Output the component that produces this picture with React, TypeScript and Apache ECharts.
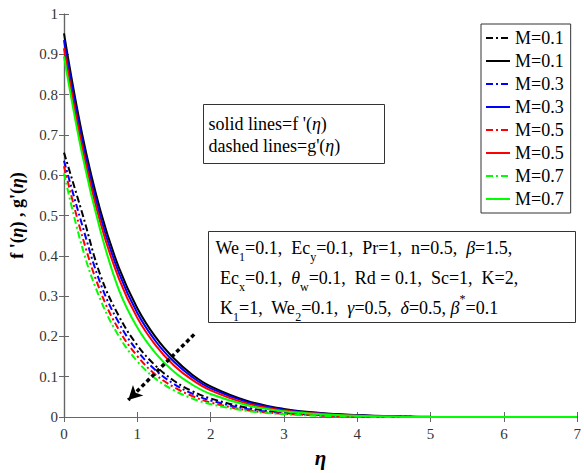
import React, { useEffect, useRef } from "react";
import * as echarts from "echarts";

// ---- data ----
const ETA = [0, 0.25, 0.5, 0.75, 1, 1.25, 1.5, 1.75, 2, 2.5, 3, 3.5, 4, 4.5, 5, 6, 7];

// f'(eta) — solid lines
const F_M01 = [0.952, 0.70, 0.51, 0.37, 0.27, 0.198, 0.145, 0.105, 0.076, 0.040, 0.020, 0.010, 0.005, 0.002, 0.0005, 0, 0];
const F_M03 = [0.935, 0.685, 0.495, 0.357, 0.258, 0.188, 0.137, 0.099, 0.071, 0.037, 0.018, 0.009, 0.004, 0.0015, 0.0003, 0, 0];
const F_M05 = [0.915, 0.668, 0.48, 0.343, 0.246, 0.178, 0.128, 0.092, 0.066, 0.033, 0.016, 0.008, 0.003, 0.001, 0, 0, 0];
const F_M07 = [0.895, 0.65, 0.46, 0.315, 0.222, 0.158, 0.112, 0.080, 0.057, 0.029, 0.014, 0.007, 0.003, 0.001, 0, 0, 0];

// g'(eta) — dashed lines
const G_M01 = [0.656, 0.505, 0.35, 0.25, 0.178, 0.127, 0.09, 0.064, 0.046, 0.023, 0.011, 0.005, 0.002, 0.001, 0, 0, 0];
const G_M03 = [0.636, 0.475, 0.33, 0.233, 0.164, 0.116, 0.082, 0.058, 0.041, 0.020, 0.010, 0.004, 0.002, 0.001, 0, 0, 0];
const G_M05 = [0.622, 0.448, 0.31, 0.216, 0.151, 0.105, 0.074, 0.052, 0.036, 0.017, 0.008, 0.004, 0.001, 0, 0, 0, 0];
const G_M07 = [0.605, 0.42, 0.29, 0.20, 0.138, 0.095, 0.066, 0.046, 0.032, 0.015, 0.007, 0.003, 0.001, 0, 0, 0, 0];

const M_LABELS = ["M=0.1", "M=0.3", "M=0.5", "M=0.7"];
const COLORS = ["#000000", "#0000ff", "#ff0000", "#00ff00"];
const F_SETS = [F_M01, F_M03, F_M05, F_M07];
const G_SETS = [G_M01, G_M03, G_M05, G_M07];

// arrow annotation (data coordinates)
const ARROW_FROM = [1.775, 0.205];
const ARROW_TO = [0.876, 0.042];

const FONT = "Liberation Serif, Times New Roman, serif";

export default function App() {
  const ref = useRef<HTMLDivElement>(null);

  useEffect(() => {
    if (!ref.current) return;
    const chart = echarts.init(ref.current, undefined, { renderer: "svg" });

    const series: any[] = [];
    M_LABELS.forEach((m, i) => {
      series.push({
        name: "g|" + m,
        type: "line",
        data: ETA.map((x, k) => [x, G_SETS[i][k]]),
        showSymbol: false,
        symbol: "none",
        smooth: 0.4,
        lineStyle: { color: COLORS[i], width: 2, type: [7, 3, 2, 3] },
        itemStyle: { color: COLORS[i] },
        z: 2,
      });
      series.push({
        name: "f|" + m,
        type: "line",
        data: ETA.map((x, k) => [x, F_SETS[i][k]]),
        showSymbol: false,
        symbol: "none",
        smooth: 0.4,
        lineStyle: { color: COLORS[i], width: 2, type: "solid" },
        itemStyle: { color: COLORS[i] },
        z: 2,
      });
    });
    series[0].markLine = {
      silent: true,
      animation: false,
      symbol: ["none", "arrow"],
      symbolSize: [11, 14],
      label: { show: false },
      lineStyle: { color: "#000", width: 3.5, type: [4, 3] },
      data: [[{ coord: ARROW_FROM }, { coord: ARROW_TO }]],
    };

    const axisColor = "#666";
    const tickLabel = { fontFamily: FONT, fontSize: 15, color: "#333" };

    const n = (s: string) => `{n|${s}}`;
    const sub = (s: string) => `{s|${s}}`;
    const g = (s: string) => `{g|${s}}`;
    const paramLines = [
      n("We") + sub("1") + n("=0.1,  Ec") + sub("y") + n("=0.1,  Pr=1,  n=0.5,  ") + g("β") + n("=1.5,"),
      n(" Ec") + sub("x") + n("=0.1,  ") + g("θ") + sub("w") + n("=0.1,  Rd = 0.1,  Sc=1,  K=2,"),
      n(" K") + sub("1") + n("=1,  We") + sub("2") + n("=0.1,  ") + g("γ") + n("=0.5,  ") + g("δ") + n("=0.5, ") + g("β") + "{p|*}" + n("=0.1"),
    ];

    chart.setOption({
      animation: false,
      backgroundColor: "#ffffff",
      grid: { left: 60, right: 5, top: 14, bottom: 49, containLabel: false },
      xAxis: [
        {
          type: "value",
          min: 0,
          max: 7,
          interval: 1,
          name: "η",
          nameLocation: "middle",
          nameGap: 30,
          nameTextStyle: { fontFamily: FONT, fontSize: 21, fontWeight: "bold", fontStyle: "italic", color: "#000" },
          axisLine: { show: true, lineStyle: { color: axisColor, width: 1.2 } },
          axisTick: { show: true, inside: true, length: 5, lineStyle: { color: axisColor } },
          axisLabel: { ...tickLabel, margin: 9 },
          splitLine: { show: false },
        },
        {
          type: "value",
          position: "top",
          min: 0,
          max: 7,
          interval: 1,
          axisLine: { show: true, lineStyle: { color: axisColor, width: 1.2 } },
          axisTick: { show: true, inside: true, length: 5, lineStyle: { color: axisColor } },
          axisLabel: { show: false },
          splitLine: { show: false },
        },
      ],
      yAxis: [
        {
          type: "value",
          min: 0,
          max: 1,
          interval: 0.1,
          name: "{b|f '(}{i|η}{b|) , g'(}{i|η}{b|)}",
          nameLocation: "middle",
          nameGap: 38,
          nameTextStyle: {
            fontFamily: FONT,
            fontSize: 18,
            fontWeight: "bold",
            color: "#000",
            rich: {
              b: { fontFamily: FONT, fontSize: 18, fontWeight: "bold", color: "#000" },
              i: { fontFamily: FONT, fontSize: 18, fontWeight: "bold", fontStyle: "italic", color: "#000" },
            },
          },
          axisLine: { show: true, lineStyle: { color: axisColor, width: 1.2 } },
          axisTick: { show: true, inside: true, length: 5, lineStyle: { color: axisColor } },
          axisLabel: { ...tickLabel, margin: 6, formatter: (v: number) => String(+v.toFixed(1)) },
          splitLine: { show: false },
        },
        {
          type: "value",
          position: "right",
          min: 0,
          max: 1,
          interval: 0.1,
          axisLine: { show: true, lineStyle: { color: axisColor, width: 1.2 } },
          axisTick: { show: true, inside: true, length: 5, lineStyle: { color: axisColor } },
          axisLabel: { show: false },
          splitLine: { show: false },
        },
      ],
      legend: {
        orient: "vertical",
        left: 481,
        top: 24,
        padding: [5, 7, 5, 4],
        itemGap: 5,
        itemWidth: 24,
        itemHeight: 14,
        backgroundColor: "#fff",
        borderColor: "#333",
        borderWidth: 1,
        borderRadius: 0,
        data: series.map((s) => s.name),
        formatter: (name: string) => name.split("|")[1],
        itemStyle: { color: "rgba(0,0,0,0)", borderColor: "rgba(0,0,0,0)", borderWidth: 0, opacity: 0 },
        textStyle: { fontFamily: FONT, fontSize: 18, color: "#000", lineHeight: 18 },
        selectedMode: false,
      },
      graphic: [
        {
          type: "group",
          left: 203,
          top: 104,
          children: [
            {
              type: "rect",
              shape: { x: 0, y: 0, width: 181, height: 59 },
              style: { fill: "#fff", stroke: "#333", lineWidth: 1 },
            },
            {
              type: "text",
              x: 5,
              y: 8,
              style: {
                text: "{n|solid lines=f '(}{i|η}{n|)}\n{n|dashed lines=g'(}{i|η}{n|)}",
                rich: {
                  n: { fontFamily: FONT, fontSize: 18, lineHeight: 22, fill: "#000" },
                  i: { fontFamily: FONT, fontSize: 18, lineHeight: 22, fontStyle: "italic", fill: "#000" },
                },
              },
            },
          ],
        },
        {
          type: "group",
          left: 208,
          top: 231,
          children: [
            {
              type: "rect",
              shape: { x: 0, y: 0, width: 367, height: 91 },
              style: { fill: "#fff", stroke: "#333", lineWidth: 1 },
            },
            {
              type: "text",
              x: 7,
              y: 1,
              style: {
                text: paramLines.join("\n"),
                rich: {
                  n: { fontFamily: FONT, fontSize: 18, lineHeight: 30, fill: "#000", verticalAlign: "middle" },
                  g: { fontFamily: FONT, fontSize: 18, lineHeight: 30, fontStyle: "italic", fill: "#000", verticalAlign: "middle" },
                  s: { fontFamily: FONT, fontSize: 12, lineHeight: 12, fill: "#000", verticalAlign: "bottom" },
                  p: { fontFamily: FONT, fontSize: 12, lineHeight: 12, fill: "#000", verticalAlign: "top" },
                },
              },
            },
          ],
        },
      ],
      series,
    });

    return () => chart.dispose();
  }, []);

  return (
    <div
      ref={ref}
      style={{ position: "fixed", left: 0, top: 0, width: 584, height: 473, background: "#fff" }}
    />
  );
}
